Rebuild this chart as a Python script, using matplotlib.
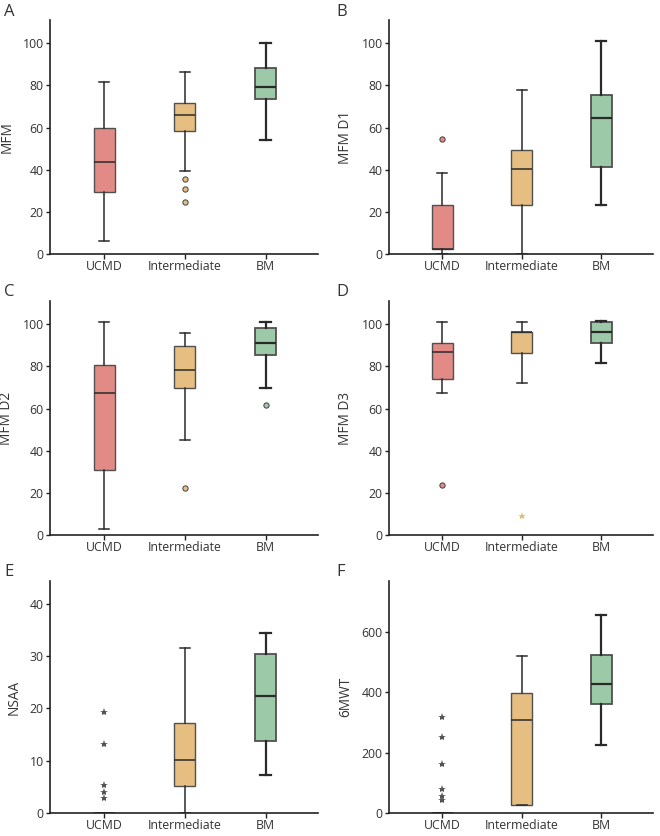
import matplotlib
matplotlib.use("Agg")
import matplotlib.pyplot as plt

plt.rcParams['font.family'] = ['Open Sans', 'DejaVu Sans']

groups = ["UCMD", "Intermediate", "BM"]
colors = ["#E28B86", "#E7BE82", "#9CCAA8"]
edge = "#505050"

# five-number summaries per group: [low whisker, Q1, median, Q3, high whisker]
mfm_box = [[6.2, 29.6, 43.7, 59.6, 81.6], [39.6, 58.2, 66.0, 71.7, 86.1], [54.1, 73.6, 79.1, 88.1, 100.0]]
mfm_out = [[], [35.4, 31.0, 24.8], []]
mfm_ext = [[], [], []]

d1_box = [[0.0, 2.5, 2.5, 23.1, 38.6], [0.0, 23.4, 40.2, 49.1, 77.8], [23.3, 41.3, 64.6, 75.2, 101.0]]
d1_out = [[54.6], [], []]
d1_ext = [[], [], []]

d2_box = [[2.7, 30.9, 67.4, 80.5, 101.0], [44.9, 69.9, 78.5, 89.6, 95.6], [69.9, 85.3, 91.3, 98.3, 101.1]]
d2_out = [[], [22.3], [61.7]]
d2_ext = [[], [], []]

d3_box = [[67.2, 73.9, 86.7, 91.3, 101.0], [72.0, 86.2, 96.2, 96.2, 101.0], [81.6, 91.3, 96.2, 101.0, 101.3]]
d3_out = [[23.7], [], []]
d3_ext = [[], [9.0], []]

nsaa_box = [[0.0, 0.0, 0.0, 0.0, 0.0], [0.0, 5.1, 10.1, 17.3, 31.5], [7.2, 13.7, 22.3, 30.4, 34.4]]
nsaa_out = [[], [], []]
nsaa_ext = [[19.4, 13.2, 5.3, 4.1, 2.8], [], []]

mwt_box = [[0.0, 0.0, 0.0, 0.0, 0.0], [26.0, 26.0, 306.0, 396.0, 518.0], [224.0, 362.0, 426.0, 521.0, 655.0]]
mwt_out = [[], [], []]
mwt_ext = [[317.0, 250.0, 163.0, 78.0, 57.0, 44.0], [], []]

panels = [
    ("A", "MFM", mfm_box, mfm_out, mfm_ext, 111, [0, 20, 40, 60, 80, 100]),
    ("B", "MFM D1", d1_box, d1_out, d1_ext, 111, [0, 20, 40, 60, 80, 100]),
    ("C", "MFM D2", d2_box, d2_out, d2_ext, 111, [0, 20, 40, 60, 80, 100]),
    ("D", "MFM D3", d3_box, d3_out, d3_ext, 111, [0, 20, 40, 60, 80, 100]),
    ("E", "NSAA", nsaa_box, nsaa_out, nsaa_ext, 44.4, [0, 10, 20, 30, 40]),
    ("F", "6MWT", mwt_box, mwt_out, mwt_ext, 767, [0, 200, 400, 600]),
]

W, H = 660, 836
fig = plt.figure(figsize=(W / 100, H / 100), dpi=100)

# pixel boxes (left, right, top, bottom)
lefts = [50, 389]
rights = [318, 653]
tops = [20, 301, 581]
bottoms = [254, 535, 813]
label_pos = [(4, 12), (336, 12), (4, 292), (336, 292), (4, 572), (336, 572)]

for i, (letter, ylabel, box, outl, ext, ytop, yticks) in enumerate(panels):
    col, row = i % 2, i // 2
    l, r = lefts[col], rights[col]
    t, b = tops[row], bottoms[row]
    ax = fig.add_axes([l / W, 1 - b / H, (r - l) / W, (b - t) / H])
    stats = []
    for g, s in zip(groups, box):
        stats.append(dict(label=g, whislo=s[0], q1=s[1], med=s[2], q3=s[3], whishi=s[4], fliers=[]))
    res = ax.bxp(stats, positions=[0, 1, 2], widths=0.26, capwidths=0.13,
                 patch_artist=True, showfliers=False,
                 boxprops=dict(edgecolor=edge, linewidth=1.0),
                 medianprops=dict(color="#2a2a2a", linewidth=1.1),
                 whiskerprops=dict(color="#2a2a2a", linewidth=1.1),
                 capprops=dict(color="#2a2a2a", linewidth=1.1))
    for j, patch in enumerate(res['boxes']):
        patch.set_facecolor(colors[j])
    # BM drawn slightly heavier
    for k in (4, 5):
        res['whiskers'][k].set_linewidth(1.6)
        res['caps'][k].set_linewidth(1.6)
    res['medians'][2].set_linewidth(1.6)
    res['boxes'][2].set_linewidth(1.3)
    for j in range(3):
        if outl[j]:
            ax.plot([j] * len(outl[j]), outl[j], 'o', ms=3.8, mfc=colors[j], mec="#404040", mew=0.7,
                    linestyle='none', zorder=4)
        if ext[j]:
            sc = "#E7BE82" if (letter == "D") else "#555555"
            ax.plot([j] * len(ext[j]), ext[j], '*', ms=6, color=sc, mew=0, linestyle='none', zorder=4)
    ax.set_xlim(-0.67, 2.65)
    ax.set_ylim(0, ytop)
    ax.set_yticks(yticks)
    ax.set_xticks([0, 1, 2])
    ax.set_xticklabels(groups)
    for sp in ("top", "right"):
        ax.spines[sp].set_visible(False)
    for sp in ("left", "bottom"):
        ax.spines[sp].set_color("#222222")
        ax.spines[sp].set_linewidth(1.2)
    ax.tick_params(axis='y', length=3, width=1, color="#222222", labelsize=8.8, labelcolor="#333333", pad=1.5)
    ax.tick_params(axis='x', length=3.5, width=1, color="#222222", labelsize=8.8, labelcolor="#333333", pad=1)
    ax.set_ylabel(ylabel, fontsize=9.8, color="#333333", labelpad=6)
    fig.text(label_pos[i][0] / W, 1 - label_pos[i][1] / H, letter, fontsize=12, color="#333333",
             ha='left', va='center')

fig.savefig("out.png", dpi=100)
